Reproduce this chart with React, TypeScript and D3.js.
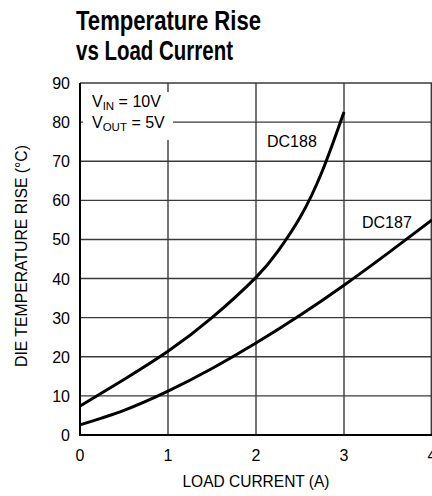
import React from "react";
import * as d3 from "d3";

const xTicks = [0, 1, 2, 3, 4];
const yTicks = [0, 10, 20, 30, 40, 50, 60, 70, 80, 90];
const dc188X = [0, 0.5, 1, 1.5, 2, 2.25, 2.5, 2.75, 3];
const dc188Y = [7.4, 14.2, 21.4, 30.0, 40.3, 47.0, 55.6, 67.3, 82.6];
const dc187X = [0, 0.5, 1, 1.5, 2, 2.5, 3, 3.5, 4];
const dc187Y = [2.6, 6.3, 11.2, 17, 23.5, 30.6, 38.3, 46.5, 55];

const W = 432;
const H = 496;
const FONT = "'Liberation Sans', Arial, sans-serif";

export default function App() {
  const x = d3.scaleLinear().domain([0, 4]).range([80, 432]);
  const y = d3.scaleLinear().domain([0, 90]).range([435, 83]);
  const line = d3
    .line<[number, number]>()
    .x((d) => x(d[0]))
    .y((d) => y(d[1]))
    .curve(d3.curveNatural);
  const s188 = dc188X.map((v, i) => [v, dc188Y[i]] as [number, number]);
  const s187 = dc187X.map((v, i) => [v, dc187Y[i]] as [number, number]);

  return (
    <svg
      width={W}
      height={H}
      style={{ position: "fixed", left: 0, top: 0, background: "#fff" }}
      fontFamily={FONT}
    >
      <rect width={W} height={H} fill="#fff" />
      {/* title */}
      <text x={76} y={30} fontSize={27.5} fontWeight="bold" textLength={185} lengthAdjust="spacingAndGlyphs">
        Temperature Rise
      </text>
      <text x={76} y={60} fontSize={27.5} fontWeight="bold" textLength={157} lengthAdjust="spacingAndGlyphs">
        vs Load Current
      </text>

      {/* grid */}
      {yTicks.slice(1).map((t) => (
        <line key={"h" + t} x1={x(0)} x2={x(4)} y1={y(t)} y2={y(t)} stroke="#3a3a3a" strokeWidth={1.4} />
      ))}
      {xTicks.slice(1).map((t) => (
        <line key={"v" + t} x1={x(t) - (t === 4 ? 0.7 : 0)} x2={x(t) - (t === 4 ? 0.7 : 0)} y1={y(90)} y2={y(0)} stroke="#3a3a3a" strokeWidth={1.4} />
      ))}

      {/* label box */}
      <rect x={83} y={92} width={90} height={48} fill="#fff" />
      <text x={92} y={107} fontSize={16}>
        V<tspan fontSize={11.5} dy={3}>IN</tspan>
        <tspan dy={-3}> = 10V</tspan>
      </text>
      <text x={92} y={128} fontSize={16}>
        V<tspan fontSize={11.5} dy={3}>OUT</tspan>
        <tspan dy={-3}> = 5V</tspan>
      </text>

      {/* axes */}
      <line x1={x(0)} x2={x(0)} y1={y(90)} y2={y(0) + 1} stroke="#000" strokeWidth={2} />
      <line x1={x(0) - 1} x2={x(4)} y1={y(0)} y2={y(0)} stroke="#000" strokeWidth={2} />

      {/* curves */}
      <path d={line(s188) || ""} fill="none" stroke="#000" strokeWidth={3} />
      <path d={line(s187) || ""} fill="none" stroke="#000" strokeWidth={3} />

      <text x={267} y={147} fontSize={16}>DC188</text>
      <text x={362} y={228} fontSize={16}>DC187</text>

      {/* tick labels */}
      {yTicks.map((t) => (
        <text key={"yl" + t} x={70} y={y(t) + 6} fontSize={16} textAnchor="end">
          {t}
        </text>
      ))}
      {xTicks.map((t) => (
        <text key={"xl" + t} x={x(t)} y={461} fontSize={16} textAnchor="middle">
          {t}
        </text>
      ))}

      <text x={256} y={487} fontSize={16} textAnchor="middle" textLength={147} lengthAdjust="spacingAndGlyphs">
        LOAD CURRENT (A)
      </text>
      <text
        transform={`translate(27,256) rotate(-90)`}
        fontSize={16}
        textAnchor="middle"
        textLength={222}
        lengthAdjust="spacingAndGlyphs"
      >
        DIE TEMPERATURE RISE (°C)
      </text>
    </svg>
  );
}
